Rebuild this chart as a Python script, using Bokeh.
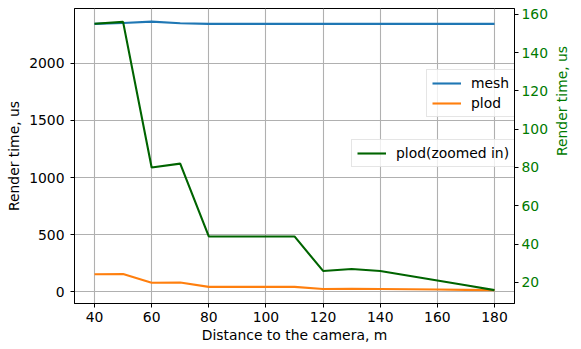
import math
from bokeh.plotting import figure
from bokeh.models import Range1d, LinearAxis, FixedTicker, Legend, LegendItem
from bokeh.embed import file_html
from bokeh.resources import INLINE

distance = [40, 50, 60, 70, 80, 90, 100, 110, 120, 130, 140, 150, 160, 170, 180]
mesh = [2343, 2350, 2362, 2348, 2343, 2343, 2343, 2343, 2343, 2343, 2343, 2343, 2343, 2343, 2343]
plod = [155, 156, 80, 82, 44, 44, 44, 44, 26, 27, 26, 23.5, 21, 18.5, 16]
plod_zoomed = [155, 156, 80, 82, 44, 44, 44, 44, 26, 27, 26, 23.5, 21, 18.5, 16]
x_ticks = [40, 60, 80, 100, 120, 140, 160, 180]
left_ticks = [0, 500, 1000, 1500, 2000]
right_ticks = [20, 40, 60, 80, 100, 120, 140, 160]

FONT = "DejaVu Sans"
FS = "13.9px"
GREEN_LINE = "#006400"
GREEN_TEXT = "#007a00"

p = figure(width=581, height=349, output_backend="svg", toolbar_location=None,
           x_range=Range1d(33, 187), y_range=Range1d(-101, 2477),
           min_border_left=74, min_border_right=53, min_border_top=8, min_border_bottom=46)
p.extra_y_ranges = {"right": Range1d(9, 163)}

p.outline_line_color = "black"
p.outline_line_width = 1
p.outline_line_alpha = 1
p.background_fill_color = "white"
p.border_fill_color = "white"

for g in (p.xgrid, p.ygrid):
    g.grid_line_color = "#b0b0b0"
    g.grid_line_width = 1.1

def style_axis(ax, color="black"):
    ax.major_tick_in = 0
    ax.major_tick_out = 4
    ax.minor_tick_in = 0
    ax.minor_tick_out = 0
    ax.major_tick_line_color = "black"
    ax.axis_line_color = "black"
    ax.major_label_text_font = FONT
    ax.major_label_text_font_size = FS
    ax.major_label_text_color = color
    ax.axis_label_text_font = FONT
    ax.axis_label_text_font_size = FS
    ax.axis_label_text_font_style = "normal"
    ax.axis_label_text_color = color
    ax.major_label_standoff = 5

p.xaxis.ticker = FixedTicker(ticks=x_ticks)
p.yaxis.ticker = FixedTicker(ticks=left_ticks)
p.xaxis.axis_label = "Distance to the camera, m"
p.yaxis.axis_label = "Render time, us"
style_axis(p.xaxis[0])
style_axis(p.yaxis[0])
p.xaxis.major_label_standoff = 4
p.xaxis.axis_label_standoff = 2
p.yaxis.major_label_standoff = 6
p.yaxis.axis_label_standoff = 4

right_axis = LinearAxis(y_range_name="right", ticker=FixedTicker(ticks=right_ticks),
                        axis_label="Render time, us")
style_axis(right_axis, GREEN_TEXT)
right_axis.major_label_standoff = 3
right_axis.axis_label_standoff = 11
right_axis.axis_label_orientation = math.pi / 2
p.add_layout(right_axis, "right")

r_mesh = p.line(distance, mesh, line_color="#1f77b4", line_width=2.1)
r_plod = p.line(distance, plod, line_color="#ff7f0e", line_width=2.1)
r_zoom = p.line(distance, plod_zoomed, line_color=GREEN_LINE, line_width=2.1, y_range_name="right")

def make_legend(items, loc):
    lg = Legend(items=items, location=loc)
    lg.label_text_font = FONT
    lg.label_text_font_size = FS
    lg.label_text_color = "black"
    lg.glyph_width = 29
    lg.glyph_height = 14
    lg.label_height = 14
    lg.label_standoff = 10
    lg.spacing = 4
    lg.padding = 5
    lg.margin = 0
    lg.border_line_color = "#cccccc"
    lg.border_line_width = 1
    lg.background_fill_alpha = 0.8
    return lg

# legend positions: pixels from the frame's bottom-left corner
leg1 = make_legend([LegendItem(label="mesh", renderers=[r_mesh]),
                    LegendItem(label="plod", renderers=[r_plod])], (352, 186))
leg2 = make_legend([LegendItem(label="plod(zoomed in)", renderers=[r_zoom])], (277, 136))
p.add_layout(leg1, "center")
p.add_layout(leg2, "center")

open("out.html", "w").write(file_html(p, INLINE))
